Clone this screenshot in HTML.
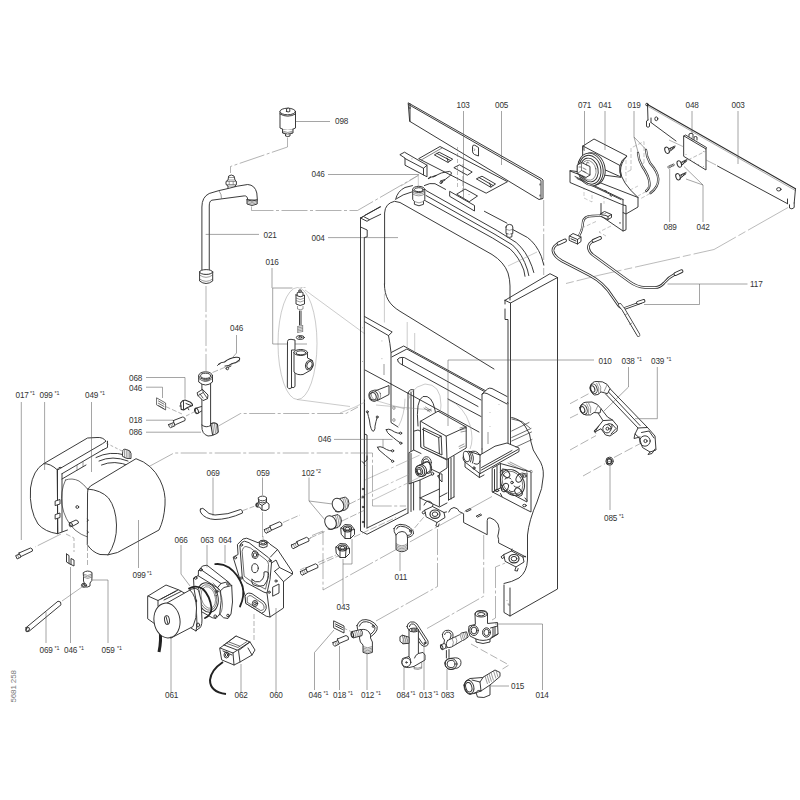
<!DOCTYPE html>
<html><head><meta charset="utf-8"><title>5681 258</title>
<style>
html,body{margin:0;padding:0;background:#fff;}
svg{display:block}
text{font-family:"Liberation Sans",sans-serif;font-size:8.2px;fill:#333;letter-spacing:-.12px;}
.s{font-size:5.4px;letter-spacing:0}
.o{fill:none;stroke:#303030;stroke-width:.95;stroke-linejoin:round;stroke-linecap:round}
.w{fill:#fff;stroke:#303030;stroke-width:.95;stroke-linejoin:round;stroke-linecap:round}
.l{fill:none;stroke:#5a5a5a;stroke-width:.55}
.d{fill:none;stroke:#666;stroke-width:.5;stroke-dasharray:26 2.5 3 2.5}
.dd{fill:none;stroke:#777;stroke-width:.5;stroke-dasharray:4 2}
.t{fill:none;stroke:#8a8a8a;stroke-width:.45}
.k{fill:none;stroke:#222;stroke-width:1.8;stroke-linecap:round}
.h{fill:none;stroke:#484848;stroke-width:.55}
</style></head><body>
<svg width="800" height="800" viewBox="0 0 800 800">
<rect width="800" height="800" fill="#fff"/>
<!-- 10_topleft.svg -->
<g id="p098">
<path class="w" d="M280,111.5 L280,128 Q287.7,132.5 295.5,128 L295.5,111.5"/>
<ellipse class="w" cx="287.75" cy="111.5" rx="7.75" ry="3.3"/>
<path class="o" d="M280,114 Q287.7,118.5 295.5,114"/>
<path class="w" d="M286.6,111.5 V108.6 Q288.2,107.6 289.8,108.6 V111.5 Q288.2,112.5 286.6,111.5Z"/>
<path class="w" d="M282.5,129.5 V133 Q287.7,136 293,133 V129.5"/>
<path class="h" d="M282.5,131 Q287.7,134 293,131 M283,132.5 Q287.7,135.3 292.5,132.5"/>
<path class="w" d="M285.5,134.5 V136 Q287.7,137 290,136 V134.5"/>
<path class="l" d="M296,121.5 H330"/>
<path class="d" d="M287.5,137.5 V147 L230.5,166.5 V173"/>
</g>
<g id="p021">
<!-- top fitting -->
<path class="w" d="M228,190 V186 L226,184.500 V181.500 L228,180 L228.700,176 Q231.200,174 234,176 L235,180 L236.400,181.500 V184.500 L235,186 V189 Z"/>
<path class="h" d="M228,180 H235 M226,181.500 H236.400 M226,184.500 H236.400 M228,186 H235 M229.200,181.500 V184.500 M233.200,181.500 V184.500 M228.700,177.500 H234.500"/>
<!-- pipe body -->
<path class="w" d="M201.900,271 V207 Q201.900,197 209.200,193.500 L218.900,190.600 L226,189 L237.200,186.200 L247.700,184.500 Q255,185 256.800,193 L257.400,200.200 L247.700,199.800 Q247.500,195.500 244.200,195.900 L221.500,198.900 L211.900,200.200 Q209.200,201 209.250,206 V271 Z"/>
<path class="h" d="M218.900,190.600 Q221.800,194.500 221.500,198.900"/>
<!-- thread end -->
<path class="w" d="M247,199.800 V204 Q252,207 257.200,204 V199.800 Q252,202.500 247,199.800Z"/>
<path class="h" d="M247,201.200 Q252,204 257.200,201.200 M247,202.700 Q252,205.500 257.200,202.700"/>
<!-- bottom fitting -->
<path class="w" d="M199.600,272 V281 Q206,286 212.700,281 V272 Q206,276.500 199.600,272Z"/>
<ellipse class="w" cx="206.150" cy="272" rx="6.550" ry="2.400"/>
<path class="h" d="M199.600,275 Q206,279.700 212.700,275 M199.600,279 Q206,283.700 212.700,279"/>
<path class="l" d="M205.700,234.400 H259"/>
<path class="d" d="M206,286 V371"/>
<path class="d" d="M251.5,206.5 V210.5 H357.5 L418,175.5"/>
</g>
<g id="p016">
<ellipse class="t" cx="297.5" cy="343.5" rx="19.5" ry="56"/>
<path class="l" d="M272,268 V288 M272.5,288 H292.5 M272.7,288 V344 H307"/>
<!-- valve insert -->
<path class="w" d="M296,295 V304 Q300,307 304.5,304 V295 Q300,297.5 296,295Z"/>
<path class="w" d="M297.5,292.5 Q300.3,290.5 303,292.5 V296 Q300.3,297.6 297.5,296Z"/>
<path class="w" d="M299.3,290 h1.8 v2.2 h-1.8z"/>
<path class="h" d="M296,298 Q300,301 304.5,298 M296,300.5 Q300,303.5 304.5,300.5 M297.5,306 V309 Q300.3,310.5 303,309 V306"/>
<path class="o" d="M299.5,311 V325 M301,311 V325"/>
<path class="h" d="M297.7,326.5 l5,-1 M297.7,328 l5,-1 M297.7,329.5 l5,-1 M297.7,331 l5,-1 M297.7,332.5 l5,-1 M297.7,326 v7 M302.7,325 v7"/>
<ellipse class="w" cx="300.3" cy="337.5" rx="4" ry="2"/>
<ellipse class="o" cx="300.3" cy="337.3" rx="1.6" ry=".8" style="stroke-width:1"/>
<!-- back plate and T body -->
<path class="w" d="M287.5,341 Q287.5,339 291,339.3 L295,340 V350 H291.5 V388 Q288.5,390 287.5,387.5Z"/>
<path class="o" d="M295,372 V386.5 Q293,389 291.5,387"/>
<path class="w" d="M294,352.5 V372 Q297,375.5 303,374.5 L311,370 Q314.5,366 312.5,360.5 L307.5,358 V352.5 Q300.5,357 294,352.5Z"/>
<ellipse class="w" cx="300.8" cy="352.5" rx="6.8" ry="3"/>
<ellipse class="o" cx="300.8" cy="352.8" rx="4.8" ry="2"/>
<ellipse class="w" cx="309.3" cy="365" rx="3.6" ry="5" transform="rotate(20 309.3 365)"/>
<ellipse class="o" cx="309.5" cy="365" rx="2.4" ry="3.6" transform="rotate(20 309.5 365)"/>
<path class="t" d="M305,290 L365,334 M297,399.5 L350,406.5"/>
<path class="t" d="M300.5,287.5 L305.5,287.5" style="stroke-dasharray:2 1"/>
</g>
<g id="p046a">
<path class="l" d="M236.5,335 V353 L233,357"/>
<path class="o" style="stroke-width:1.100;stroke:#2a2a2a" d="M218.500,364.500 Q221,362 224.500,362 Q229.500,358 236,357.300 Q240.500,356.800 239.500,359.800 Q236.500,363 231.500,363.800 Q228.500,366.300 225,366"/>
<path class="o" d="M219,364 L217.5,365.5 M226,368.5 a1.3,1.3 0 1,0 2.6,0 a1.3,1.3 0 1,0 -2.6,0 M228,367.5 L231,366"/>
<path class="l" d="M328,174.5 H419"/>
<path class="l" d="M328,237.600 H398"/>
</g>

<!-- 12_top005.svg -->
<g id="p005">
<!-- shelf plate with slots (behind panel) -->
<path class="w" d="M419,158.500 L440,146.500 L507.500,181.700 L486.500,193 Z"/><path class="o" d="M421.500,159.800 L442,148" style="stroke-width:.6"/>
<path class="o" d="M434.700,154.700 L439.200,152.200 L452.700,159.200 L448.200,162.200 Z M437,153.500 L450.500,160.500 M448.200,162.200 L447,158"/>
<path class="o" d="M454.200,167.500 L459.500,164.800 L472.200,172 L467.700,175 Z"/>
<path class="o" d="M476.700,178.700 L482,176.200 L495.500,184 L491,187 Z M479,177.500 L493,185.500 M491,187 L489.500,183"/>
<!-- panel 005 -->
<path class="w" d="M408.5,103 L542,179 L543,180 V198.5 L539,199.5 L410,121.5 Z"/>
<path class="o" d="M408.5,104.5 L541,180.5 V198.7 M410,103.8 V121.5" />
<path class="o" d="M409.3,108 h1.2 M540,184 v1 M540,195 v1"/>
<path class="w" d="M472.5,146.5 q0,-2 2.3,-1.3 L478.5,147.5 V156 L474.5,154.5 q-2,-1 -2,-3Z"/>
<path class="h" d="M474,148.5 q1.5,1 0,2.5"/>
<!-- left bracket -->
<path class="w" d="M400.200,154.500 L404.500,152.200 L427,165.200 V176.800 L405,165.200 V158.500 Z"/>
<path class="o" d="M405,158.500 L423.500,168.300 L427,165.200 M423.500,168.300 V174.800"/>
<path class="h" d="M411.500,158.800 h.9"/>
<!-- bracket 2 -->
<path class="w" d="M457,194 L465,189 L477.500,196 L469.500,201.500 Z"/>
<path class="w" d="M450,191.500 L474.500,205.500 V211 L450,196.500 Z"/>
<path class="h" d="M468.600,194.500 h.9"/>
<!-- 046 clip -->
<g style="stroke-width:1;stroke:#2a2a2a"><path class="o" d="M430.200,177.200 Q434,177.500 437,175 Q441,172.500 446,172 Q450.500,170.500 451.500,172.700 Q451.500,175 449,176.500 Q446,180 440.500,181"/>
<path class="o" d="M428.500,178.500 l2,-1.300 M433,176.500 l3,-1" style="stroke-width:1.300"/><circle class="o" cx="441" cy="182.600" r="1.100"/><path class="o" d="M442,181.800 l3,-1.800"/></g>
<!-- thin lines -->
<path class="t" d="M419,175 L401,186 M418.3,175 V187"  />
<path class="dd" d="M457.5,147 V187 M462.8,192 V162"/>
<!-- leaders -->
<path class="l" d="M463.5,111 V200 M501.5,111 V165"/>
<path class="d" d="M543.7,200 V275"/>
</g>

<!-- 14_topright.svg -->
<g id="p003">
<path class="w" d="M647.5,104.5 L795.5,188.7 L794.5,205 L787.5,203.7 L717.5,166 L676,141 L651,122.5 L648,120 Z" style="stroke:none"/>
<path class="o" d="M647.5,104.5 L795.5,188.7" style="stroke-width:1.1;stroke:#2a2a2a"/><path class="o" d="M647.8,106.3 L795.3,190.5" style="stroke-width:.4"/>
<path class="o" d="M647.5,104.5 L648,120 M795.5,188.7 L794.2,203"/>
<path class="o" d="M651,122.5 L676,141 M717.5,166 L787.5,203.7"/>
<circle class="o" cx="647" cy="104.5" r="1.3"/>
<!-- hooks -->
<path class="o" d="M648,120 L646.5,121 V126.5 Q648,128 649.5,126.5 V123.5 M651,118 V122.5"/>
<path class="o" d="M794.2,203 V207.5 Q792,210 789.5,208 V204.8 M787.5,199 V203.7"/>
<ellipse class="o" cx="656.3" cy="118.8" rx="1.5" ry="1.9"/>
<ellipse class="o" cx="778.8" cy="189.3" rx="2.2" ry="1.7"/>
<path class="l" d="M738,111 V164 M692,111 V148"/>

<path class="t" d="M788,207.500 L714,249.5 L600,275 L566,283.5" style="stroke:#666;stroke-dasharray:46 3 8 3"/>
</g>
<g id="p048">
<path class="w" d="M684,136 L706,149 V170 L684,156.5 Z"/>
<path class="o" d="M684,136 L685.5,135 L706.5,147.5 L706,149"/>
<path class="w" d="M689,136.5 v-2.5 q2,-1.5 4,0 v3 M694,139.5 v-2.5 q1.5,-1 3,0 v3"/>
<path class="h" d="M686,154 v.8 M703.5,151 v.8 M703.5,166 v.8 M690,160 h.8 M694,162.3 h.8 M698,164.6 h.8"/>
<path class="dd" d="M669,140 L684,147 M706,160 L716,165" style="stroke-dasharray:none;stroke:#666"/>
<path class="dd" d="M688,160 L706,151"/>
</g>
<g id="screws">
<g id="sc1"><ellipse class="w" style="stroke-width:1" cx="667" cy="150.3" rx="2.1" ry="3.3" transform="rotate(-20 667 150.3)"/><path class="o" d="M668.8,149 L675,146 M669.3,151.8 L675,147 M670.5,148.2 l.6,2 M672,147.5 l.6,1.6 M673.5,146.8 l.4,1.2"/></g>
<g id="sc2"><ellipse class="w" style="stroke-width:1" cx="679.3" cy="164" rx="2.1" ry="3.3" transform="rotate(-20 679.3 164)"/><path class="o" d="M681,162.5 L687,159.5 M681.6,165.3 L687,160.5 M682.8,161.8 l.6,2 M684.3,161 l.6,1.6 M685.6,160.3 l.4,1.2"/></g>
<g id="sc3"><ellipse class="w" style="stroke-width:1" cx="678" cy="176.8" rx="2.1" ry="3.3" transform="rotate(-20 678 176.8)"/><path class="o" d="M679.8,175.5 L686,172.5 M680.3,178.3 L686,173.5 M681.5,174.7 l.6,2 M683,174 l.6,1.6 M684.5,173.3 l.4,1.2"/></g>
<path class="o" d="M668,166.5 L673.8,163.8 L674.5,165.2 L668.6,168 Z M669.5,165.8 l.7,1.5 M671,165.1 l.7,1.5 M672.5,164.4 l.7,1.5" style="stroke-width:.6"/>
<path class="l" d="M669.7,222 V168.5 M703,222 V185 L684,166.5 M703,185 L686,179"/>
</g>
<g id="p019">
<path class="dd" d="M631,170 V148 L644,141.5 V163 M631,170 L625,173 M644,163 L640,165" style="stroke:#888"/>
<path d="M638,153 Q638.5,160 642,166 Q649,176 649.5,183 Q650,188 646.2,191" fill="none" stroke="#333" stroke-width="2.3" stroke-linecap="round"/>
<path d="M638,153 Q638.5,160 642,166 Q649,176 649.5,183 Q650,188 646.2,191" fill="none" stroke="#fff" stroke-width=".9" stroke-linecap="round"/>
<path d="M646,150 Q646.5,157 650,163 Q658,172 658.3,179 Q658.5,187 650.5,193" fill="none" stroke="#333" stroke-width="2.3" stroke-linecap="round"/>
<path d="M646,150 Q646.5,157 650,163 Q658,172 658.3,179 Q658.5,187 650.5,193" fill="none" stroke="#fff" stroke-width=".9" stroke-linecap="round"/>
<path class="l" d="M634,111 V137 L638,152 M634,137 L645.5,149"/>
<path class="dd" d="M646,191.5 L638,196 M650,193.5 L640,199" style="stroke:#888"/>
</g>
<g id="p041">
<!-- dashed boxes -->
<path class="dd" d="M584,186 V198 L592,202 V190 M604,195 V207 M626,160 V192 L638,186" style="stroke:#999"/>
<!-- top box -->
<path class="w" d="M583,146 L594,139 L627,156 Q621,160 620,166 Q619.5,172 621,177 L583,160 Z"/>
<path class="o" d="M583,146 L620,165.5 M583,146 V150"/>
<!-- curved cut + front flange -->
<path class="w" d="M621,177 Q619.5,172 620,166 Q621,160 627,156 Q620.5,163 620.5,171 Q621,182 638,197.5 V207 L626,214 V205.5 L623,205 L570,182.5 V171 Z" />
<path class="o" d="M570,171 L638,197.5 M575,176.5 L623,199.5 M577,178.5 L621,199.5 M623,199.5 V205 M605,190.5 l1.5,.7 M610,195.5 l1.5,.7 M581,179.5 l1.5,.7"/>
<!-- disc 071 -->
<ellipse class="w" cx="592.5" cy="169" rx="12.5" ry="16.5" transform="rotate(-12 592.5 169)"/>
<ellipse class="w" cx="590.5" cy="169.5" rx="12.5" ry="16.5" transform="rotate(-12 590.5 169.5)"/>
<ellipse class="o" cx="590" cy="169.7" rx="10.8" ry="14.6" transform="rotate(-12 590 169.7)"/>
<ellipse class="o" cx="589.3" cy="170" rx="8.8" ry="12" transform="rotate(-12 589.3 170)"/>
<ellipse class="o" cx="588.7" cy="170.3" rx="7.3" ry="10" transform="rotate(-12 588.7 170.3)" style="stroke-width:.5"/>
<path class="w" d="M577.5,165 L581.5,162.5 L590,166.5 V175 L586,177.5 L577.5,173.5 Z"/>
<path class="o" d="M581.5,162.5 V170.5 L577.5,173.5 M581.5,170.5 L590,175 M579,167 h2 M583,168 l3,1.5 M583,171 l3,1.5 M580,163.8 l-2,-1.8 l1.5,-1.5 M586.5,165 l.5,-3 l2,1" style="stroke-width:.6"/>
<!-- lower plate -->
<path class="w" d="M601,203.5 V216 L623,231 L626,229.8 V214 L623,212.5 V205"/>
<path class="o" d="M623,212.5 V231 M620,222.5 v.8"/>
<!-- connector on plate -->
<path class="w" d="M601,213.5 L604.5,211.5 L611.5,214.5 V217.5 L608,219.5 L601,216.5Z"/>
<path class="o" d="M608,216.5 V219.5 M601,213.5 L608,216.5 L611.5,214.5"/>
<path class="l" d="M584.5,111 V151 M605,111 V150"/>
<path class="dd" d="M596,221.5 L584,227 M611,226 L599,232 L606,236" style="stroke:#888"/>
</g>
<g id="cables117">
<!-- small cable w/ connector -->
<path d="M606,214.5 Q600,216 592,216 Q584,216 583,222 Q582.5,230 579,236" fill="none" stroke="#333" stroke-width="2.3"/>
<path d="M606,214.5 Q600,216 592,216 Q584,216 583,222 Q582.5,230 579,236" fill="none" stroke="#fff" stroke-width="1"/>
<path class="w" d="M569.5,236 L573,233.5 L581,237 V241.5 L577.5,244 L569.5,240.5Z"/>
<path class="o" d="M569.5,236 L577.5,239.5 L581,237 M577.5,239.5 V244 M571,238.8 l5,2.2" />
<!-- cable A -->
<path id="ca" d="M564,241 L559.5,243 Q552.500,246 553,251 Q554,256.500 562,261 L590,275.500 Q604,283 612,296 L619,306 L623,309 L637,333" fill="none" stroke="#303030" stroke-width="2.700" stroke-linecap="round"/>
<path d="M564,241 L559.5,243 Q552.500,246 553,251 Q554,256.500 562,261 L590,275.500 Q604,283 612,296 L619,306 L623,309 L637,333" fill="none" stroke="#fff" stroke-width="1.050" stroke-linecap="round"/>
<path d="M623,309 L641,302.5" fill="none" stroke="#303030" stroke-width="2.700" stroke-linecap="round"/>
<path d="M622,309.3 L641,302.5" fill="none" stroke="#fff" stroke-width="1.050" stroke-linecap="round"/>
<path d="M558.5,243.5 L565,240.5" fill="none" stroke="#2a2a2a" stroke-width="3.800" stroke-linecap="round"/><path d="M558.5,243.5 L565,240.5" fill="none" stroke="#fff" stroke-width="2" stroke-linecap="round"/>
<path d="M638,302.7 L643.5,301" fill="none" stroke="#2a2a2a" stroke-width="3.800" stroke-linecap="round"/><path d="M638,302.7 L643.5,301" fill="none" stroke="#fff" stroke-width="2" stroke-linecap="round"/>
<path d="M620,305 L623.5,309.5 L638.5,335" fill="none" stroke="#333" stroke-width="3.6" stroke-linecap="round" stroke-linejoin="round"/><path d="M620,305 L623.5,309.5 L638.5,335" fill="none" stroke="#fff" stroke-width="2.3" stroke-linecap="round" stroke-linejoin="round"/><path class="h" d="M627.5,313.5 l-2.5,1.5 M632,323 l-2.7,1.5"/>
<!-- cable B -->
<path d="M598,238.8 L594,240.5 Q588,243.5 588.5,248 Q589,252 593,255 L630,282 Q637,287 645,287.5 L655,287.5 Q660,287.5 664,283 Q669,277 676,273.5" fill="none" stroke="#303030" stroke-width="2.700" stroke-linecap="round"/>
<path d="M598,238.8 L594,240.5 Q588,243.5 588.5,248 Q589,252 593,255 L630,282 Q637,287 645,287.5 L655,287.5 Q660,287.5 664,283 Q669,277 676,273.5" fill="none" stroke="#fff" stroke-width="1.050" stroke-linecap="round"/>
<path d="M593.5,240.8 L600,238" fill="none" stroke="#2a2a2a" stroke-width="3.800" stroke-linecap="round"/><path d="M593.5,240.8 L600,238" fill="none" stroke="#fff" stroke-width="2" stroke-linecap="round"/>
<path d="M675.5,274 L681.5,271.2" fill="none" stroke="#2a2a2a" stroke-width="3.800" stroke-linecap="round"/><path d="M675.5,274 L681.5,271.2" fill="none" stroke="#fff" stroke-width="2" stroke-linecap="round"/>
<path class="l" d="M667.5,284 H747.5 M699.5,284 V304.5 H644"/>
</g>

<!-- 20_frame.svg -->
<g id="frame">
<!-- left post -->
<path class="o" d="M360.5,218 V531 L367,534.300 L408,513"/>

<path class="o" d="M360.5,218 L380,206.8 M365,215.2 L380.7,206.8 M369.5,219.7 L380.7,214.3 M360.5,218 L363.5,216.5 L369.5,219.7 L367,221.3 L361,218.3"/>
<path class="o" d="M360.5,227 L367.2,230 V236.8 L364.3,237.5 V527"/>

<!-- vessel 004 -->
<path class="o" d="M384.6,284 V213 Q385,203.5 394.5,201.3 L400,202.5 L492,254.5 Q504,262 508,273 Q510,280 510,286 V300"/>
<path class="o" d="M384.4,284 C384.6,297 389,304.5 400,311.3 L494,369"/>
<path class="o" d="M395.6,199.400 Q397.500,191 405,187.500 L412.500,185.600 M396.500,198.700 Q402,194.500 411.900,191.900"/>
<path class="o" d="M424.400,185.500 Q430,182.500 435,183.700 L445.600,189.400"/>
<path class="o" d="M426,190.5 L497.5,230.8 L516.2,242.5 Q526.3,251 531.9,266.3 L533.8,272.5"/>
<path class="o" d="M426,195.5 L495,234.4 L512.5,245 Q522.5,254 527.5,270 L528.8,275.6"/>
<path class="o" d="M424,200 L492.5,238 L510,248.8 Q519,257 523.8,270 L525,276.3"/>
<path class="o" d="M484.4,211.3 L506.9,223.1 M512.5,229.4 L527.5,237.5 Q536.3,244 541.3,256.3 L543.8,265"/>
<path class="t" d="M508,266 L537,252"/>
<!-- cap -->
<path class="w" d="M412.700,189.400 V199.400 L414.400,201.500 V204.300 Q419,207.300 423.500,204.300 V201.500 L424.800,199.400 V189.400"/>
<ellipse class="w" cx="418.750" cy="189.400" rx="6.100" ry="3.100"/>
<ellipse class="o" cx="418.750" cy="189.700" rx="4.400" ry="2"/>
<path class="h" d="M412.700,192.300 Q418.700,196 424.800,192.300 M412.700,194 Q418.700,197.700 424.800,194 M414.400,201.500 Q419,204.200 423.500,201.500"/>
<!-- nipple -->
<path class="w" d="M506,227 V233.500 Q509.400,235.500 512.800,233.500 V227 Q512.800,224.400 509.400,224.400 Q506,224.400 506,227Z"/>
<path class="w" d="M506.800,234.200 V236.800 Q509.400,238 511.900,236.800 V234.200"/>
<path class="h" d="M506,229.300 Q509.400,231.300 512.800,229.300"/>
<!-- right panel -->
<path class="o" d="M505,300.3 L550,273.700 L557.500,277.500 V589 L510,616 L504,612.5 V585"/>
<path class="o" d="M505,300.3 L510.5,303 L557.500,277.500"/>
<path class="o" d="M505,300.3 V304 M505,309 V319.5 H508 V452 M510.5,303 V451"/>
<path class="o" d="M510,616 V588"/>
<!-- wavy edge -->
<path class="o" d="M511.7,417.5 Q520,419 525,426 Q531,434 531,442 Q532,450 538,458 Q544,466 543.3,476 Q543,488 537,502 Q529,520 527.5,535 L527.5,560 Q527,572 519,578 Q512,582 504,583.5"/>
<!-- left inner plate -->
<path class="o" d="M364.5,316.5 L392.2,332 L388.5,335.6 Q390,343 391,352.5 V422.5 L398,427"/>
<path class="o" d="M364.5,321.7 L388.5,335.6"/>
<path class="o" d="M365,370 L391,384"/>
<path class="h" d="M381.9,340.6 v.7 M381.9,358.4 v.7 M384,364 V375 M362.5,327.5 v.7 M362.5,361 v.7"/>
<!-- beam -->
<path class="o" d="M391.2,352.5 L403.7,346 L508,403"/>
<path class="o" d="M391.9,356.9 L406.9,349 L484,391.3"/>
<path class="o" d="M397.5,359.6 Q398.5,357.2 402,357.4 L404.4,357.6 L481,400 M397.5,359.6 Q397.6,362.5 400.5,363.8 L478,406.5 M402.500,358.500 V364.800"/>
<path class="o" d="M391,384 L479,432"/>
<path class="o" d="M448,399 L481,416.5"/>
<path class="t" d="M407.2,322 V347.5 M414.7,333 V351 M384.4,293.7 V322.5"/>
<!-- right bracket -->
<path class="w" d="M482,394 L487.5,389 Q489.5,387.5 492,388.5 L507,396.5 V440 L482,449 Z" style="stroke:none"/><path class="o" d="M482,449 V394 L487.5,389 Q489.5,387.5 492,388.5 L507,396.5"/>
<path class="o" d="M482,394 Q484,392 487,393.5 L507,404"/>
<path class="h" d="M490,412 v.6 M490,426 v.6 M488,432 V444 M499,404 v.6"/>
<path class="o" d="M482,449 V470"/>
<!-- pipe stub -->
<path class="w" d="M375,391 L389,385.5 V394.5 L377.5,400.5Z"/>
<ellipse class="w" cx="373.5" cy="396" rx="4.6" ry="5.4" transform="rotate(-20 373.5 396)"/>
<ellipse class="o" cx="373" cy="396.3" rx="3.1" ry="3.8" transform="rotate(-20 373 396.3)"/>
<ellipse class="o" cx="376" cy="395" rx="4.6" ry="5.4" transform="rotate(-20 376 395)" style="stroke-width:.45"/>
<!-- central rail -->
<path class="o" d="M408,393 V513 M413.600,390 V510 M411,392 V511.500"/>
<path class="o" d="M408,393 Q410,388 413.600,390"/>

<path class="h" d="M392.7,408 a1.2,1.4 0 1,0 2.4,0 a1.2,1.4 0 1,0 -2.4,0 M392.7,420 a1.2,1.4 0 1,0 2.4,0 a1.2,1.4 0 1,0 -2.4,0"/>
<!-- bottom frame lines -->
<path class="o" d="M364.500,527 V400 M367,528 V456 M367,528 L406,509" /><path class="o" d="M364.500,434 L367,435 V460 L364.500,462"/>


</g>

<!-- 25_central.svg -->
<g id="central">
<!-- light loops -->
<path class="t" d="M448.700,400 Q464,406 470,425 Q474,440 470,449 M405,398.700 Q404.500,415 398.700,426 M407,410 Q407,388 425,384 Q441,384 441,405 Q441,412 437,414"/>
<path class="t" d="M376,405 L432,410 M374,400 L405,409"/>
<!-- arch -->
<path class="o" d="M418,426 Q415.500,400 423,396.500 Q432,394.500 435,410 L435.500,413"/>
<path class="o" d="M424,408 l6,4 M425.500,407 l6,4 M427.500,411 l3.500,-2" style="stroke-width:.5"/>
<!-- clips -->
<g style="stroke-width:.9;stroke:#2a2a2a">
<path class="o" d="M367.500,412.500 Q368.500,417 369.400,420 Q370,426 371.200,428.700 Q372.500,432 373.700,431.200 Q375.500,429 375,426.200 Q376,421 377,418"/>
<circle class="o" cx="367.300" cy="411.800" r="1"/><circle class="o" cx="377.200" cy="417" r="1"/>
<path class="o" d="M386.200,429.600 Q389,428.500 391.200,430 Q395,432.500 397.500,433 L399.500,433.200 M386.200,429.600 Q387,433 390,435 Q394,438 396.200,440 L399.800,442.500"/>
<circle class="o" cx="400.600" cy="433.200" r="1.100"/><circle class="o" cx="400.800" cy="443.200" r="1.100"/>
<path class="o" d="M377.500,447.200 Q380,446 383,447.500 Q387,450 389.400,450.600 L391.500,450.800 M377.500,447.200 Q378.500,450.500 382,452.500 Q386,456 388,457.500 L391.700,460.500"/>
<circle class="o" cx="392.600" cy="450.800" r="1.100"/><circle class="o" cx="392.600" cy="461.300" r="1.100"/>
</g>
<path class="l" d="M334,439.400 H392.500 M383,439.400 V447"/>
<!-- valve plate under box -->
<path class="w" d="M409.400,452.500 L413.700,450 V431.200 L418,430 L421,431.500 V447 L447,460 V468 L439.400,473 L439.400,489 L420,498 V480 L409.400,483.700 Z"/>
<path class="o" d="M411,453.500 V483 M413.700,450 L421,453.500 M439.400,473 L432,469.500 M420,480 L432,474.500"/>
<!-- fittings -->
<ellipse class="w" cx="426.500" cy="462.500" rx="4.800" ry="5.800"/><ellipse class="o" cx="426" cy="462.800" rx="3.200" ry="4"/>
<path class="w" d="M420.500,464.500 L428,461.500 Q431.500,465 430,471 L423,475Z"/>
<ellipse class="o" cx="427" cy="467.500" rx="4.500" ry="6" transform="rotate(-20 427 467.500)"/>
<ellipse class="w" cx="421.500" cy="470.500" rx="5" ry="6" transform="rotate(-20 421.500 470.500)"/>
<ellipse class="w" cx="420" cy="471" rx="4.600" ry="5.600" transform="rotate(-20 420 471)"/>
<ellipse class="o" cx="419.500" cy="471.200" rx="3" ry="3.800" transform="rotate(-20 419.500 471.200)"/>
<ellipse class="o" cx="419.200" cy="471.400" rx="1.800" ry="2.400" transform="rotate(-20 419.200 471.400)"/>
<ellipse class="o" cx="432.500" cy="473.700" rx="1.200" ry="1.500"/>
<path class="o" d="M438,476 Q440.500,472.500 442,474 V482 Q440,481 438,476Z"/>
<!-- right rail under box -->
<path class="o" d="M448.500,459 V500 M454,456 V497 M451,458 V499"/>
<path class="o" d="M439.400,489 V506 M420,498 V510 M439.400,497 L447,493"/>
<path class="o" d="M420,498 L439.400,507 L447,503 M424,505 Q427,498 432,503"/>
<!-- box 010 -->
<path class="w" d="M420.600,421.200 L438,411.200 L466.200,427 V448 L447,459.400 L421.200,447.500 Z"/>
<path class="o" d="M420.600,421.200 L446.200,436.200 L466.200,427 M446.200,436.200 L447,459.400"/>
<path class="w" d="M423.700,428 L441.200,436.200 L442,455 L424.200,446.700 Z"/>
<path class="o" d="M422.500,429.500 L438.700,437.500 L439.400,453.700 M438.700,437.500 L441.200,436.200" />
<path class="o" d="M460,428 l5,-1.500 M460.500,430 l5.500,-1.500 M461,432 l5,-1 M459,446.500 l5,-2.500 M459.500,448.500 l5.500,-2.500" style="stroke-width:.5"/>
<path class="l" d="M448,360 H594 M448,360 V426"/>
<!-- pipe elbow & base -->
<path class="w" d="M465.600,462.500 L480,473.700 L519,451.500 L519,448 L507,443 L495,446.200 L480,455 L468.700,451.200 Q463.500,453 463,458 Q463,461 465.600,462.500Z"/>
<path class="o" d="M480,455 V473.700 M481.500,470 L518,449.500 M481.500,467.500 L512,450.500 M465,462 V467 L479.400,477.500 V473.700 M479.400,477.500 L484,475"/>
<ellipse class="w" cx="466.500" cy="456.500" rx="3" ry="5.300" transform="rotate(-15 466.500 456.500)"/>
<path class="o" d="M469,451.500 Q473,456 470.500,462 M471,452 Q475,456.500 472.500,463"/>
<path class="o" d="M470,452 Q476,449 480,455 M474,463.500 Q479,466 480,461"/>
<ellipse class="o" cx="474" cy="468" rx="1" ry="1.300"/>
<path class="o" d="M511.700,419 L522,421.500 L530,428 M511.700,431 L529,422.500 M511.700,437.500 L531,428.500 M516,447 L532,439.500 M511.700,441 L531.500,432" style="stroke-width:.7"/>
<!-- fan plate -->
<path class="w" d="M492.500,468 L500.400,463.500 L531,472 V512 L525.700,509.400 L492.500,492 Z"/>
<path class="o" d="M500.400,463.500 V488 L527,502 V473 M492.500,492 L500.400,488 M497,466 V490"/>
<ellipse class="o" cx="512.500" cy="482.500" rx="11" ry="14" transform="rotate(-35 512.500 482.500)"/>
<ellipse class="o" cx="506" cy="473.500" rx="3" ry="4.500" transform="rotate(-40 506 473.500)"/>
<ellipse class="o" cx="519.500" cy="478" rx="3" ry="4.500" transform="rotate(30 519.500 478)"/>
<ellipse class="o" cx="505" cy="487.500" rx="3" ry="4.500" transform="rotate(30 505 487.500)"/>
<ellipse class="o" cx="518.500" cy="492" rx="3" ry="4.500" transform="rotate(-40 518.500 492)"/>
<circle class="o" cx="512" cy="482.500" r="1.300"/><ellipse class="o" cx="512.500" cy="482.500" rx="9.300" ry="12.300" transform="rotate(-35 512.500 482.500)" style="stroke-width:.6"/><path class="o" d="M503,468.500 L500.400,472 M522,473 l4,1 M502,496.500 l-1.500,-3 M525,498 l2,2.500 M494.500,469.500 V491"/>
<ellipse class="o" cx="497" cy="490.500" rx="1.800" ry="1.200"/><ellipse class="o" cx="524.500" cy="505.500" rx="1.800" ry="1.200"/><ellipse class="o" cx="524.500" cy="476" rx="1.800" ry="1.200"/>
<path class="o" d="M508,463 l16,8 M510,462 l18,9 M524.500,470 q3,-1 2,2 M530,470.500 q3,-1 2,2" style="stroke-width:.5"/>
<path class="o" d="M505,479 Q509,476 511,479 M514,486 Q517,489 520,486 M509,490 Q512,494 515,490"/>
<!-- lower plate -->
<path class="w" d="M448.700,512 Q450,508 454,507.500 Q458,508 459.200,511.500 L463.600,513.700 V522.500 L487.200,534.700 V520.700 Q487,517.500 490,517.800 Q495,519 498,524 Q500,529 498.500,533 Q497,536 498.600,539.400 V542.900 L525.700,556.900" style="fill:none"/>
<path class="o" d="M466,510.500 l4,-2 l1.200,1 l-4,2Z M476.500,516 l4,-2 l1.200,1 l-4,2Z"/>
<!-- brackets w/ bearing -->
<g id="brg"><path class="w" d="M425,510 L432.500,506.500 L444,512.500 L445,517.500 L437,522.500 L426.500,517 Z"/><ellipse class="o" cx="435" cy="514.200" rx="5" ry="4.200" style="stroke-width:1.200"/><ellipse class="o" cx="435" cy="514.200" rx="2.800" ry="2.300"/><path class="o" d="M425,510 l-3,2.300 l1.200,1.800 l2.300,-1.500 M437,522.500 l-1.200,3.500 l2.500,.6 l.8,-2.600 M444,512.500 l2.500,-.6 M432.500,506.500 l.5,-2"/></g>
<g transform="translate(79,44.500)"><path class="w" d="M425,510 L432.500,506.500 L444,512.500 L445,517.500 L437,522.500 L426.500,517 Z"/><ellipse class="o" cx="435" cy="514.200" rx="5" ry="4.200" style="stroke-width:1.200"/><ellipse class="o" cx="435" cy="514.200" rx="2.800" ry="2.300"/><path class="o" d="M425,510 l-3,2.300 l1.200,1.800 l2.300,-1.500 M437,522.500 l-1.200,3.500 l2.500,.6 l.8,-2.600 M444,512.500 l2.500,-.6 M432.500,506.500 l.5,-2"/></g>
<!-- frame bottom detail -->
<path class="o" d="M448.500,500 L454,497"/>
<circle class="o" cx="363" cy="497" r="1"/><circle class="o" cx="363" cy="489" r=".8"/><circle class="o" cx="363" cy="507" r=".8"/><circle class="o" cx="363" cy="522" r=".8"/>
<path class="o" d="M362,461.500 q2.500,1 3,4" style="stroke-width:.9"/>
<!-- bottom plate small marks -->
<path class="h" d="M507,600 v.8 M507.500,604 h1.500 v2"/>
<!-- assembly dash-dots -->
<path class="d" d="M312,535.500 L323,531 V590 L492,496.500"/>
<path class="d" d="M376,621 L437.500,586.500 V527"/>

<path class="d" d="M318,562.500 L336,555 M354,537 L396,517.500" style="stroke-dasharray:7 2"/>
<path class="d" d="M427,628.500 L483.700,596.200 V535"/>
<path class="d" d="M492,620 L495.500,618 V567 L506.500,562.500"/>
<path class="d" d="M409.500,534 L426,514.500" style="stroke-dasharray:6 2"/>
<path class="d" d="M349.500,504 L364.500,496.500 M342,521 L365,510" style="stroke-dasharray:7 2"/>
<path class="d" d="M300,542.500 L312,537.500 M300,570 L306,567" style="stroke-dasharray:5 2"/>
<path class="d" d="M365,480 L420,455 M365,495 L410,474 M373,500 L420,477" style="stroke:#888"/>
<path class="t" d="M365,402 L355,407 L340,413"/>
</g>

<!-- 30_tank.svg -->
<g id="tank">
<!-- rear shell -->
<path class="w" d="M57.5,470 L102.5,443.7 L106,441.2 Q103,437 97,437.5 L87.5,438 L43.7,463.7 Q33,470 30.5,488 Q29,510 38,524 Q45,532 57.5,533.7 Z"/>
<path class="o" d="M57.5,470 V533.7 L67.5,530 M62,473.7 V531.5 M62,473.7 L102.5,450 M62,479 L86,465 M57.5,470 Q58,466.5 61.5,467.5"/>
<path class="o" d="M43.7,463.7 Q50,463 57.5,470 M107.5,441.2 V447.5 L102.5,450"/>
<path class="h" d="M77,465 v5.500 M83,461.500 v5.500"/>
<path class="w" d="M55.5,501 L60,499.5 V504 L55.5,505.5Z M55.5,514.5 L60,513 V517.5 L55.5,519Z"/>
<!-- inner cylinder -->

<path class="o" d="M96,457.500 Q110,450.500 125,455 M99,461 Q112.500,455 128,461 M101.500,465 Q114,459.500 130,466" /><path class="o" d="M65.500,480 Q60,492 62,505 Q64.500,520 75,530 Q81,535 87.500,537" style="stroke-width:.7"/><path class="o" d="M65.500,480 Q72,477.500 79,481 Q84,484.500 87.500,489" style="stroke-width:.7"/>
<path class="w" d="M122.7,451 Q122.5,448.5 126.5,449.5 Q131,450.5 131,453.5 V458.5 Q126.5,459.5 122.7,456.5Z"/>
<path class="h" d="M124.5,449.8 v7.5 M126.3,449.8 v8.2 M128,450 v8.5 M129.6,450.8 v8"/>
<circle class="o" cx="77.3" cy="507" r="1.4"/>
<path class="w" d="M69.5,523 L76,520 Q78.5,520.5 78.5,523 L72,526.5 Q69,526 69.5,523Z"/>
<ellipse class="o" cx="70.8" cy="524.8" rx="1.6" ry="2"/>
<!-- front shell -->
<path class="w" d="M87.5,492.5 Q87,488.5 90.5,486 L136,458.7 Q152,464 160,480 Q166,492 165,505 Q164,520 159,530 L117.5,552.5 Q108,556 100,554.5 Q92,552 87.5,545 Z"/>
<path class="o" d="M87.5,489 Q101,490 108.5,498 Q116,508 116.5,525 Q117,542 108,555"/>
<path class="o" d="M87.5,519 q2,1 0,2.5 M87.5,531 q2,1 0,2.5"/>
<!-- leaders -->
<path class="l" d="M21.3,402 V540 M44.6,402 V470 M91.5,402 V472 M138.5,568 V520"/>
<!-- dashdots from tank -->
<path class="d" d="M106,443 L122,451" style="stroke-dasharray:3 2"/>
<path class="d" d="M150,466 L174,453 H372.5 V506 H406"/>
<path class="d" d="M61,534 L35,547"/>
<path class="d" d="M66,534 L74,538 V552 M87.5,546 V566" style="stroke-dasharray:5 2"/>
</g>
<g id="tanksmall">
<!-- 017 pin -->
<path class="w" d="M19,553 L30.5,548 Q33,548.5 32.5,551 L21,556.5 Q18.5,556 19,553Z"/>
<path class="w" d="M16,555.5 L19.5,554 L21,557 L17.5,558.8 Z"/>
<path class="h" d="M17.5,555 l1.5,3.2"/>
<!-- 046 clip -->
<path class="o" d="M66.5,554 L69,555.5 V563.5 L74,566 V560 L71,558.5 V564.5 M66.5,554 V562 L69,563.5"/>
<!-- 059 fitting -->
<path class="w" d="M83.5,572.5 Q87.5,569.5 92,572.5 V577 Q92.5,581 90,583 V586 Q87,588 84.5,586.5 V583.5 Q83,582 83.5,577Z"/>
<path class="h" d="M83.5,574 Q87.5,577 92,574 M83.5,575.5 Q87.5,578.5 92,575.5 M83.5,577 Q87.5,580 92,577"/>
<ellipse class="w" cx="84" cy="585.3" rx="2.6" ry="2" />
<ellipse class="o" cx="83.8" cy="585.3" rx="1.3" ry="1"/>
<!-- 069 tube -->
<path class="w" d="M26,627.700 L58,601.200 Q61.500,601 61,604.800 L29,631.300 Q25.500,631.500 26,627.700Z"/>
<ellipse class="o" cx="27.6" cy="629.6" rx="1.5" ry="2.200" transform="rotate(40 27.6 629.6)"/>
<path class="l" d="M46,643 V612 M70.5,643 V567 M108,643 V580 H92"/>
<path class="d" d="M62,601 L82,587"/>
</g>
<g id="p086">
<!-- 068 / 046 / 018 / 086 -->
<path class="l" d="M146,377.500 H185 V398.700 M146,387.200 H162.500 V398 M146,420.200 H173 M146,432.200 H201"/>
<path class="o" d="M156.900,398 L165.600,403 V410 L156.900,405 Z M158.500,401 l5.500,3.200 M158.500,403.300 l5.500,3.200 M158.500,405.600 l5.500,3.200" style="stroke-width:.7"/>
<!-- 068 -->
<path class="w" d="M180.600,403 Q182.500,400 185,400 L190,401.900 Q192.800,403.500 192.500,405.600 L187.500,407.500 L183.700,410 L181.200,409.400 Z" style="stroke-width:1.100"/>
<path class="o" d="M183.500,401.500 V409.500 M186,403.500 L191,405.500 M187.500,407.500 l1.300,2.300 M181,406 h-1.200"/>
<!-- 018 pin -->
<path class="w" d="M173.500,420.500 L182.500,417 Q185.800,417.300 185,420.500 L175.500,424.700 Q173,424 173.500,420.500Z"/>
<path class="w" d="M168.700,424.500 L173.700,422.500 L175,425.700 L170.500,427.700 Q168.300,426.800 168.700,424.500Z"/>
<path class="h" d="M170.500,423.800 l1.400,3.300 M172,423.200 l1.400,3.300"/>
<!-- small piece -->
<path class="w" d="M195.500,408.300 L202.500,406.200 Q204.500,407.500 203.700,409.700 L197.500,413.500 Q194.500,412.500 195.500,408.300Z"/>
<ellipse class="o" cx="196.500" cy="411" rx="1.800" ry="2.800" transform="rotate(-20 196.500 411)"/>
<!-- pipe 086 -->
<path class="w" d="M201.900,380 V426 Q201.500,434 208,436 L212.500,435.500 L217,432.500 L215.500,424.500 L210.600,426 V380 Z"/>
<path class="o" d="M201.900,425 Q206,428.500 210.600,425.500"/>
<path class="w" d="M198.700,375.600 V382 Q205.600,388 212.500,382 V375.600"/>
<ellipse class="w" cx="205.600" cy="375.600" rx="6.900" ry="3.800"/>
<ellipse class="o" cx="205.600" cy="375.800" rx="5" ry="2.600"/>
<path class="o" d="M198.700,378.500 Q205.600,384.500 212.500,378.500 M204,381 Q208,381.500 210,379" style="stroke-width:.7"/>
<path class="w" d="M197.500,392.500 L202.500,389.400 L208,395 L207.500,398.700 L203,400.600 L198,395.600Z"/>
<path class="o" d="M198,395.600 L203.300,392.500 L207.500,398.700 M200,394 l3,4 M203.300,392.500 L202.500,389.400" style="stroke-width:.8"/>
<path class="w" d="M210.800,424 Q214.500,421.500 217.500,424.500 L218.300,432 Q215.500,435.500 212.500,434.500Z" style="stroke-width:1.100"/>
<path class="h" d="M212.500,423.300 l1.400,11 M214.300,422.800 l1.400,11 M216,423.300 l1.300,10"/>
<path class="d" d="M218.500,426 L240.500,413.500 H346 L358,407"/>
<path class="d" d="M212.500,372.500 L240,361" style="stroke-dasharray:6 2"/>
<path class="d" d="M165.600,406.500 L182,414" style="stroke-dasharray:5 2"/>
<path class="d" d="M186,416 L195,411.500" style="stroke-dasharray:4 2"/>
</g>

<!-- 40_pump.svg -->
<g id="pump">
<!-- 060 housing -->
<path class="w" d="M237.700,544.200 L243,539 L246.700,538.200 L258,542.700 L261,540.500 Q264,539.500 267,541.200 L270,544.200 L277.500,549.500 L292.500,572 V574.200 L283.500,581.700 V608 L270,617 L266.200,616.200 L246,603.500 L245.200,596 L240,579.500 L234,560 L233.200,557 L237.700,554.700 Z"/>
<path class="o" d="M240,545 Q241.500,541.500 244.500,541.200 L249,542.700 L268.500,557.700 Q271.500,560 271.500,563 L270,579.500 L267,593 L264,592.200 L246,582.500 Q242.500,580 242.200,576.500 Z"/>
<path class="o" d="M242.200,551 Q243,546.500 246,546.500 L250.500,548 L266.200,560 Q268.500,562 268.500,564.500 L267.700,579.500 L265.500,589.200 L252,582 L244.500,576.500 Z" style="stroke-width:.7"/>
<path class="o" d="M271.500,563 L276,560 L279.500,567.500 L292.500,574 M274.500,571.300 L279.500,567.500 M274.500,571.300 L283.500,581.700 M267,593 L270,617 M273,587 L279,584 V593 L273,596Z M277.500,549.500 L270.500,557"/>
<ellipse class="w" cx="263.200" cy="542.700" rx="3.900" ry="2.400"/><ellipse class="o" cx="263.200" cy="542.600" rx="2.300" ry="1.300"/>
<path class="o" d="M259.300,542.700 V546.500 Q263.200,549 267.100,546.500 V542.700"/>
<ellipse class="o" cx="255" cy="554.700" rx="3.100" ry="3.800"/><ellipse class="o" cx="255" cy="555" rx="1.700" ry="2.200"/>
<ellipse class="o" cx="255" cy="568.200" rx="3.300" ry="4.500"/>
<path class="o" d="M252,579.500 Q255,583 259.500,581.700 Q264.700,579 264,572 Q266,571 268.500,572.700 Q269.500,578 264,585.500 Q257.500,587.500 253,584.700 Q251,582 252,579.500Z"/>
<circle class="o" cx="241.500" cy="545" r="1.100"/><circle class="o" cx="270" cy="560.700" r="1.100"/><circle class="o" cx="241.200" cy="578" r="1.100"/><circle class="o" cx="269.200" cy="592.200" r="1.100"/><circle class="o" cx="235.500" cy="557.700" r="1.100"/><circle class="o" cx="276" cy="581" r="1.100"/>
<path class="w" d="M245.200,596 Q246.500,592.500 250,593.200 L252,593.700 L264,602 Q267,605 266.200,608.500 Q265,612.500 261.700,613.200 L246,603.500 Z"/>
<path class="o" d="M247.500,597 Q248.500,595 251,595.700 L262.500,603.500 Q264.700,606 264,608.500 Q263,610.700 260.700,610.500 L247.500,602.500 Z" style="stroke-width:.7"/>
<ellipse class="o" cx="255" cy="603.500" rx="2.700" ry="3"/><ellipse class="o" cx="255" cy="603.500" rx="1.300" ry="1.500"/>
<!-- 064 ring -->
<path class="k" d="M215.200,564.200 Q222,563.200 229,567.500 Q238,574 242.500,586 Q245,596 240,606.500"/>
<!-- 063 flange -->
<path class="w" d="M198.700,570.500 L202.500,566 L207,565.200 L228,581.700 L231.700,585.500 L232.500,602 L231,614 L228,618.500 L223.500,617.700 L219.700,614 L216,618.500 L212.200,617.700 L195,608 L193.500,578 L198,575.700 Z"/>
<path class="o" d="M198,575.700 L217.500,587.700 L220.500,590.700 L221.200,600.500 L219.700,614 M217.500,587.700 L221,583.500 L201.500,570 L198.700,570.500 M221,583.500 L228,581.700 M220.500,590.700 L224,587.500 L231.700,585.500"/>
<ellipse class="o" cx="207.700" cy="597.500" rx="10.300" ry="15" transform="rotate(-14 207.700 597.500)"/>
<ellipse class="o" cx="208" cy="597.500" rx="8.600" ry="13" transform="rotate(-14 208 597.500)" style="stroke-width:.6"/>
<ellipse class="o" cx="208.300" cy="597.500" rx="7" ry="11" transform="rotate(-14 208.300 597.500)" style="stroke-width:.5"/>
<path class="o" d="M213,583 Q222,590 222.500,604 Q222.500,612 219,615.500" style="stroke-width:.6"/>
<circle class="o" cx="201" cy="569.700" r="1.300"/><circle class="o" cx="228" cy="584" r="1.300"/><circle class="o" cx="228" cy="615.500" r="1.300"/><circle class="o" cx="216.700" cy="591.500" r="1.300"/><circle class="o" cx="195.700" cy="578" r="1.300"/><circle class="o" cx="215.200" cy="616.200" r="1.300"/>
<!-- 066 ring -->
<path class="k" d="M189,588.500 Q196,584.500 203,589 Q210,596 211.500,608 Q211.500,615 205,618"/>
<!-- 061 motor -->
<path class="w" d="M148,596 L166,585 L179,590 L186,594 V610 L155,624 L148,619 Z"/>
<path class="o" d="M148,596 L158,600.500 L176,591 M158,600.500 V606 M161,599 L178,590 M164,600 L181,591.500" />
<path class="w" d="M190,589.500 L194,588.500 Q198,588 199,592 L201,600 L202,620 Q202,628 198,629 L196,631 L191,628 Z"/>
<path class="o" d="M194,588.500 L196,600 L197,625 L196,631"/>
<ellipse class="o" cx="195" cy="601" rx="1.600" ry="2"/><ellipse class="o" cx="198" cy="625" rx="1.600" ry="2"/>
<path class="w" d="M167,603 L190,590 Q196,596 196.500,608 Q197,618 193,626.500 L171,638 Z"/>
<path d="M160,630 Q161.500,640 159,652" fill="none" stroke="#222" stroke-width="3"/>
<ellipse class="w" cx="167" cy="620.500" rx="13" ry="17.500" transform="rotate(-8 167 620.500)"/>
<ellipse class="o" cx="167" cy="620" rx="2.400" ry="4.400" transform="rotate(-8 167 620)"/>
<path class="o" d="M166,616.500 L168,624"/>
<!-- 062 -->
<path d="M223,662 Q211,670 210,680 Q210,692 226,694" fill="none" stroke="#222" stroke-width="2"/>
<path class="w" d="M220,648 L236,636 L250,642 L255,650 L252,655 L240,662 L234,665 L222,660 Z"/>
<path class="o" d="M220,648 L233,653 L249,642.500 M233,653 L234,665 M224,645 L237,650 M240,662 L238.500,650.500 L250,642 M223,651 L232,655 M252,655 L248,648"/>
<ellipse class="o" cx="226.500" cy="655" rx="2.500" ry="3"/><ellipse class="o" cx="226.500" cy="655" rx="1.200" ry="1.500"/><path class="o" d="M227,643.500 L238,647.500 L247,641.500 M229,642 L239.500,646 M236,636 L224,645" style="stroke-width:.7"/>
<!-- leaders -->
<path class="l" d="M181,545 V574 L190,586 M207,545 V567.500 M225,545 V563 M171,692.500 V636 M241,692.500 V664 M276,692.500 V608"/>
<path class="d" d="M254,640 V612" style="stroke-dasharray:5 2"/>
</g>
<g id="studs">
<g id="st"><path class="w" d="M270,526 L279.500,521.800 Q282.500,522.500 282,525.500 L272,530 Q269.500,529.500 270,526Z"/><path class="w" d="M264.500,529.500 L270,527 L271.500,530.500 L266,533.300 Q264,532 264.500,529.500Z"/><path class="h" d="M266.300,528.800 l1.500,3.500 M268,528 l1.500,3.500"/></g>
<g transform="translate(27,15.500)"><path class="w" d="M270,526 L279.500,521.800 Q282.500,522.500 282,525.500 L272,530 Q269.500,529.500 270,526Z"/><path class="w" d="M264.500,529.500 L270,527 L271.500,530.500 L266,533.300 Q264,532 264.500,529.500Z"/><path class="h" d="M266.300,528.800 l1.500,3.500 M268,528 l1.500,3.500"/></g>
<g transform="translate(36,42)"><path class="w" d="M270,526 L279.500,521.800 Q282.500,522.500 282,525.500 L272,530 Q269.500,529.500 270,526Z"/><path class="w" d="M264.500,529.500 L270,527 L271.500,530.500 L266,533.300 Q264,532 264.500,529.500Z"/><path class="h" d="M266.300,528.800 l1.500,3.500 M268,528 l1.500,3.500"/></g>

<path class="d" d="M283,522.500 L300,515 M310,538 L326,531 M319,564.500 L345,553" style="stroke-dasharray:7 2"/>
<path class="d" d="M263,536 V541" style="stroke-dasharray:3 1"/>
</g>

<!-- 50_valves.svg -->
<g id="p038039">
<!-- 039 -->
<path class="w" d="M610,388.700 L647.500,427.500 L655,436 L656,450 L650,452 L642.500,447.500 L639,437.500 L635,434 L638,428 L606,394.400 Z"/>
<path class="o" d="M608,391.500 L640,425.500 M638,428 L647.500,427.500 M640,437 L634,438.500 L635,434 M650,452 L648,454.500 L652,453.500 L655,449" />
<circle class="o" cx="645" cy="441" r="5.200"/><circle class="o" cx="645.500" cy="441" r="1.600"/>
<path class="o" d="M641.500,432.500 L649,431 L654,438"/>
<path class="w" d="M590.600,386.200 Q592,381 597,381.500 L602.500,381.900 Q608,383.500 610,388.700 L607.500,393.700 L601,391.900 Q598.500,395.500 594.500,395 Q590.500,393.500 590.600,386.200Z"/>
<ellipse class="o" cx="593.700" cy="388.700" rx="3.300" ry="5" transform="rotate(-20 593.700 388.700)"/>
<ellipse class="o" cx="592.500" cy="389" rx="2.200" ry="3.300" transform="rotate(-20 592.500 389)" style="stroke-width:1"/>
<path class="h" d="M596.500,383 Q600,387.500 598.500,394 M598.500,382.300 Q602,387 600.500,392.300 M607,385 L604,391.500"/>
<!-- 038 -->
<path class="w" d="M601,408.700 L607.500,417 L612.500,420 L617.500,426 L617,431 L610,436 L605.600,435 L601,428.700 L595,432 L598.700,426 L603,420.600 L598,413Z"/>
<path class="o" d="M603,420.600 L612.500,420 M598.700,426 L594,431 L595.500,433 M612,424 L616,428.500 L611,434"/>
<circle class="o" cx="607" cy="428.700" r="4.200"/><circle class="o" cx="607.500" cy="428.700" r="1.500"/>
<path class="o" d="M610,429.500 Q613,428 612,425 Q610.500,423 608,423.800" />
<path class="w" d="M580,407.500 Q581.500,402.500 586,402.200 L592,402 Q598,403.500 601,408.700 L600,413 L594,412.500 Q591,416 586,415 Q580.500,414 580,407.500Z"/>
<ellipse class="o" cx="583.700" cy="409.500" rx="3.300" ry="5" transform="rotate(-20 583.700 409.500)"/>
<ellipse class="o" cx="582.500" cy="409.800" rx="2.200" ry="3.300" transform="rotate(-20 582.500 409.800)" style="stroke-width:1"/>
<path class="h" d="M586.500,403.500 Q590,408 588.500,414.500 M588.500,403 Q592,407.500 590.500,413 M598,405.500 L595,412"/>
<!-- 085 -->
<ellipse class="o" cx="609.500" cy="461.200" rx="3.600" ry="4" /><ellipse class="o" cx="609.300" cy="461.300" rx="2.200" ry="2.600" style="stroke-width:1.200"/>
<path class="h" d="M606.500,459 l6,1 M606.200,461 l6.500,1 M606.500,463 l6,1" />
<path class="l" d="M628.500,367 V387 L604,411 M657.300,367 V418.700 H635 M610,466 V510"/>
<path class="d" d="M570,403.700 L590,393 M570,418 L580,413 M570,450 L596,435.600 M614,457.500 L640,443.700 M583,476 L605,463.700" style="stroke-dasharray:9 3"/>
</g>
<g id="valves">
<!-- 046 gasket -->
<path class="o" d="M334,621 L344,626 V633 L334,628 Z M335.500,624 L342.500,627.500 M335.500,626 L342.500,629.500"/>
<!-- 018 pin -->
<path class="w" d="M337.500,639 L346,635.500 Q349,636 348.500,639.500 L339.500,643.300 Q337,642.500 337.500,639Z"/>
<path class="w" d="M333,642.500 L338,640.500 L339.300,644 L334.700,646.300 Q332.500,645 333,642.500Z"/>
<path class="h" d="M334.700,641.800 l1.500,3.600 M336.300,641.200 l1.500,3.500"/>
<!-- 012 -->
<path class="w" d="M357,625.500 Q358.500,621.500 362,620 Q366,619 370,620.500 Q375,622.500 377.200,626.500 Q377.800,630 375,633 Q372,636.500 368,638 L363,638.500 Q357.500,634 357,625.500Z"/>
<path class="o" d="M359.300,626.200 Q360.500,623 363,622 Q366.500,621.200 369.500,622.500 Q373.500,624.300 375,627.300 Q375.300,629.500 373.300,631.800 Q371,634.500 368.500,635.500"/>
<circle class="o" cx="373.300" cy="626.300" r="1.100"/>
<path class="w" d="M361,629.600 Q366,628.500 369,632 Q371.500,635 370.500,638 L372.400,642 V652.400 Q367.700,655 363,652.400 V645 Q359.500,642.500 359.500,638.500Z"/>
<path class="w" d="M352,631.600 L361,629.400 Q363.300,632 362,635.600 L353,638 Q350.500,635.500 352,631.600Z"/>
<ellipse class="o" cx="352.300" cy="634.800" rx="1.200" ry="2.600" transform="rotate(-12 352.300 634.800)" style="stroke-width:1.100"/>
<path class="h" d="M354.500,631.200 Q356,634.500 355.300,637.400 M356.300,630.700 Q357.800,634 357.100,636.900 M358.100,630.200 Q359.600,633.500 358.900,636.400 M359.900,629.800 Q361.400,633 360.700,636"/>
<path class="h" d="M363,646.500 Q367.700,649 372.400,646.500 M363,648 Q367.700,650.500 372.400,648 M363,649.500 Q367.700,652 372.400,649.500 M363,651 Q367.700,653.500 372.400,651"/>
<!-- 084/013 -->
<path class="w" d="M407,626.500 Q407.500,623 410.500,622 Q414.500,621 417,624 L428,641 Q429,644.500 426.500,646 Q423.500,647.300 421,644.500 L410.500,630 Q406.800,629.500 407,626.500Z"/>
<path class="o" d="M409.400,626.600 Q409.800,624.500 411.500,624 Q414,623.500 415.500,625.500 L425.800,641.500 Q426.300,643.500 425,644.200 Q423.500,644.800 422.500,643.500 L412.500,629"/>
<circle class="o" cx="425" cy="643" r=".9"/>
<path class="w" d="M409,630 V656.500 L402.500,658.500 Q400.500,664 404,667 Q408.500,668.500 414,666.400 L425,660 V655 L423,652.400 L418.400,653.500 V630 Q413.700,633.500 409,630Z"/>
<ellipse class="w" cx="413.700" cy="630" rx="4.700" ry="1.900"/><ellipse class="o" cx="413.700" cy="630" rx="2.800" ry="1"/>
<path class="o" d="M418.400,653.500 Q415,655 414.500,658 M409,656.500 Q411,658.500 410.800,662"/>
<circle class="w" cx="406.400" cy="662.400" r="4.400"/><circle class="o" cx="406.400" cy="662.400" r=".7"/>
<path class="w" d="M400.300,636.500 L402.500,635.200 L409,637.200 V643.300 L403,643.800 L400.300,641.500Z"/>
<path class="o" d="M402.500,635.200 Q404,639 403,643.800 M404.500,636 Q406,639.500 405,643.600 M406.500,636.500 Q408,640 407,643.500" style="stroke-width:.7"/>
<path class="h" d="M414,666.400 V668.800 Q418,670.300 421.700,668.300 V662 M414,667.600 Q418,669 421.700,667"/>
<!-- valve near 083 -->
<path class="w" d="M442.400,634.500 Q442.800,631.500 445.500,630.500 Q449,629.500 451.500,631.500 Q453.500,633.500 453,636.500 L451,642.500 Q449,647.500 446.500,648 Q443.500,647.500 443.800,644 L444.500,640 Q442,638 442.400,634.500Z"/>
<path class="o" d="M444.600,634.600 Q445,632.800 446.500,632.300 Q448.800,631.700 450.200,633 Q451.300,634.300 451,636 L449.500,640"/>
<path class="w" d="M447.500,640.500 L459.500,634.800 L461.500,633 L466.500,631.800 L468.200,637 L464,640 L462.500,640.500 L451.500,647 Q448.500,648.500 446.500,646.500 Q445.500,643 447.500,640.500Z"/>
<path class="h" d="M460,634.500 l1.800,5.800 M461.700,633.500 l1.800,6 M463.400,632.800 l1.800,6 M465.100,632.300 l1.800,5.800 M452,638.500 Q454.500,642 452.500,646.300 M455.500,636.800 Q458,640.500 456,644.300"/>
<path class="w" d="M440.800,645 L444.500,643.300 Q446.500,645 445.800,648 L442.300,649.800 Q440,648 440.800,645Z"/>
<ellipse class="o" cx="441.700" cy="647.300" rx="1.100" ry="2" transform="rotate(-20 441.700 647.300)" style="stroke-width:1"/>
<path class="o" d="M446.400,650.500 V658 M449,649.500 V657.500"/>
<!-- 083 ring -->
<path class="w" d="M445,663 Q445,658.500 451,658.300 L455.500,657.800 Q461,658 461,662.500 Q461,667.500 455.500,668.500 L451,669.500 Q445,669 445,663Z"/>
<ellipse class="o" cx="451" cy="664" rx="6" ry="5.500"/><ellipse class="o" cx="451" cy="664" rx="4" ry="3.700"/>
<!-- 014 -->
<path class="w" d="M475,614 Q475,610.500 481,610.500 Q487.500,610.500 487.500,614 V623.500 L497.500,622.500 L498,634 L490,639 V642 Q483,645 476,642 V639 L470,636 Q467.500,631 469,626 L475,624.500Z"/>
<ellipse class="o" cx="481.200" cy="614" rx="6.200" ry="3"/><ellipse class="o" cx="481.200" cy="614.200" rx="3.600" ry="1.700"/>
<ellipse class="o" cx="474" cy="630.500" rx="4.300" ry="5"/><ellipse class="o" cx="474" cy="630.500" rx="2.800" ry="3.400"/>
<ellipse class="o" cx="486.500" cy="632.500" rx="4" ry="4.700"/><ellipse class="o" cx="486.500" cy="632.500" rx="2.600" ry="3.200"/>
<path class="o" d="M490.500,628 L497.500,626 M491,637.500 L498,634 M493,627.500 v9 M495,627 v8.500 M476,639 Q483,642 490,639"/>
<!-- 015 -->
<path class="w" d="M464,685 Q465,680 470,678.500 L482.500,677.500 L495,670 L500,672.500 V676.500 L490,685 V695 Q484,699 477.500,697 L476,692.500 L470,694.500 Q464,693 464,685Z"/>
<ellipse class="o" cx="469.200" cy="687" rx="4.600" ry="6.800" transform="rotate(-15 469.200 687)"/><ellipse class="o" cx="468.800" cy="687.200" rx="3" ry="4.800" transform="rotate(-15 468.800 687.200)"/>
<path class="o" d="M472,680 L480,682 L481,691 L474,693.500 M480,682 L483,677.500 M481,691 L490,685 M476,692.500 Q478,689 481,691"/>
<path class="h" d="M485,676 l2.500,8 M487,675 l2.500,8 M489,673.700 l2.500,8 M491,672.500 l2.500,8 M493.500,671 l2.500,7.500 M496,670.500 l2,6.500"/>
<!-- leaders -->
<path class="l" d="M314.500,690 V652.500 L334,630 M339.500,690 V646 M367,690 V654 M404,690 V666 M424,690 V645 M447,690 V669 M542.500,690 V624 H495 M509,686 H491"/>
<path class="d" d="M471,644 L509,665 L502.500,669" style="stroke-dasharray:8 3"/>
<path class="d" d="M344.500,628.500 L352,632" style="stroke-dasharray:3 2"/>
</g>
<g id="p011etc">
<!-- 011 -->
<path class="w" d="M394,528.500 Q395,525 400,524.300 Q406,524.300 410,527.500 Q414.500,531 413.500,534 Q411.500,537 407.500,537.500 V549.500 Q402,554 396,549.500 V535 Q393.500,532 394,528.500Z"/>
<path class="o" d="M396.500,529 Q397,526.500 400.500,526.200 Q405.500,526.300 409,529 Q412,531.500 411.500,533.500 Q410,535.500 407.500,535.500 M396,535 Q398,531.500 402,531.500 Q407.500,532 407.500,537.500"/>
<path class="h" d="M396,545 Q402,549.500 407.500,545 M396,546.500 Q402,551 407.500,546.500 M396,548 Q402,552.500 407.500,548 M396,543.500 Q402,548 407.500,543.500"/>
<circle class="o" cx="410.500" cy="531" r="1"/>
<path class="l" d="M400,571 V552.500"/>
<!-- 102 plugs -->
<g id="plug"><path class="w" d="M340,498.500 L345.500,497 Q349,499 349,503.500 Q348.500,508 345.500,510 L340.500,511Z"/><path class="h" d="M342.500,498 Q345.500,503 343,510.500 M344.500,497.500 Q347.500,503 345,510 M346.500,497.800 Q349,503 347,509"/>
<ellipse class="w" cx="338" cy="505" rx="5.500" ry="7" transform="rotate(-25 338 505)"/><path class="o" d="M335.500,511.500 Q340,513.500 343.500,508.500"/></g>
<g transform="translate(-7.500,17.500)"><path class="w" d="M340,498.500 L345.500,497 Q349,499 349,503.500 Q348.500,508 345.500,510 L340.500,511Z"/><path class="h" d="M342.500,498 Q345.500,503 343,510.500 M344.500,497.500 Q347.500,503 345,510 M346.500,497.800 Q349,503 347,509"/>
<ellipse class="w" cx="338" cy="505" rx="5.500" ry="7" transform="rotate(-25 338 505)"/><path class="o" d="M335.500,511.500 Q340,513.500 343.500,508.500"/></g>
<path class="l" d="M309,477.500 V501 L332.500,504 M309,501 L325,520"/>
<!-- 043 nuts -->
<g id="nut"><path class="w" d="M341,528 L345,524.500 L351,525 L354.500,529.500 L354.500,534.500 L350.500,538.500 L345,538.500 L341.500,534.500Z"/><path class="o" d="M341,528 L345,530 L345,538.500 M345,530 L351,530 L354.500,529.500 M351,530 L350.500,538.500"/><ellipse class="o" cx="347.500" cy="529" rx="4.200" ry="3" style="stroke-width:1.100"/><ellipse class="o" cx="347.500" cy="529" rx="2.600" ry="1.700"/></g>
<g transform="translate(-5,19)"><path class="w" d="M341,528 L345,524.500 L351,525 L354.500,529.500 L354.500,534.500 L350.500,538.500 L345,538.500 L341.500,534.500Z"/><path class="o" d="M341,528 L345,530 L345,538.500 M345,530 L351,530 L354.500,529.500 M351,530 L350.500,538.500"/><ellipse class="o" cx="347.500" cy="529" rx="4.200" ry="3" style="stroke-width:1.100"/><ellipse class="o" cx="347.500" cy="529" rx="2.600" ry="1.700"/></g>
<path class="l" d="M343,604 V559 M343,564 H352 V539"/>
<!-- 069 top -->
<path class="w" d="M200.500,509 Q203,507 205,510 Q208,514.500 215,515 Q228,515 240.500,509.500 Q243,510 242.500,513 Q228,519.500 215,519.500 Q205,519 201,513 Q199.500,511 200.500,509Z"/>
<path class="l" d="M213,477.500 V516 M262.500,477.500 V495"/>
<!-- 059 top -->
<path class="w" d="M258.500,497.500 Q262.500,494.500 266.500,497.500 V502 L269,504 V508.500 L266,510.500 L262,510 L259.500,507 H257 Q255.500,505 257,503 H258.500Z"/>
<path class="o" d="M258.500,499.500 Q262.500,502.500 266.500,499.500 M258.500,501.500 Q262.500,504.500 266.500,501.500 M262,510 V505.500 L266.500,502.500 M262,505.500 L259,503.500"/>
<ellipse class="o" cx="257" cy="505" rx="1.200" ry="2"/>
<path class="d" d="M243,510.500 L255,506" style="stroke-dasharray:5 2"/>
<path class="d" d="M262.500,512 V537"/>
</g>

<!-- 90_labels.svg -->
<g id="labels" transform="translate(0,-0.4)">
<text x="335" y="124.5">098</text>
<text x="311.5" y="177.5">046</text>
<text x="263.5" y="238">021</text>
<text x="311.5" y="241.5">004</text>
<text x="265.5" y="265">016</text>
<text x="230" y="331.5">046</text>
<text x="129" y="381">068</text>
<text x="129" y="391">046</text>
<text x="129" y="423">018</text>
<text x="129" y="435.5">086</text>
<text x="15.5" y="398">017</text><text class="s" x="30" y="395.0">*1</text>
<text x="39.5" y="398">099</text><text class="s" x="54.5" y="395.0">*1</text>
<text x="85" y="398">049</text><text class="s" x="100" y="395.0">*1</text>
<text x="206.5" y="476">069</text>
<text x="256.5" y="476">059</text>
<text x="301.5" y="476">102</text><text class="s" x="316" y="473.0">*2</text>
<text x="318" y="442">046</text>
<text x="174.5" y="543">066</text>
<text x="200.5" y="543">063</text>
<text x="218.5" y="543">064</text>
<text x="132.5" y="578">099</text><text class="s" x="147" y="575.0">*1</text>
<text x="39.5" y="653">069</text><text class="s" x="54.5" y="650.0">*1</text>
<text x="64" y="653">046</text><text class="s" x="79" y="650.0">*1</text>
<text x="101.5" y="653">059</text><text class="s" x="117" y="650.0">*1</text>
<text x="165" y="698">061</text>
<text x="234.5" y="698">062</text>
<text x="269.5" y="698">060</text>
<text x="308.5" y="698">046</text><text class="s" x="323.5" y="695.0">*1</text>
<text x="333" y="698">018</text><text class="s" x="348" y="695.0">*1</text>
<text x="361" y="698">012</text><text class="s" x="376" y="695.0">*1</text>
<text x="396.5" y="698">084</text><text class="s" x="410.5" y="695.0">*1</text>
<text x="419" y="698">013</text><text class="s" x="433.5" y="695.0">*1</text>
<text x="441" y="698">083</text>
<text x="511" y="689">015</text>
<text x="535.5" y="698">014</text>
<text x="336.5" y="610.5">043</text>
<text x="394.5" y="580">011</text>
<text x="604" y="521">085</text><text class="s" x="619" y="518.0">*1</text>
<text x="456.5" y="108.5">103</text>
<text x="495" y="108.5">005</text>
<text x="578" y="108.5">071</text>
<text x="598.5" y="108.5">041</text>
<text x="627.5" y="108.5">019</text>
<text x="685.5" y="108.5">048</text>
<text x="731.5" y="108.5">003</text>
<text x="663.5" y="230">089</text>
<text x="696.5" y="230">042</text>
<text x="750" y="287">117</text>
<text x="598.5" y="364.5">010</text>
<text x="621.5" y="364.5">038</text><text class="s" x="637" y="361.5">*1</text>
<text x="651" y="364.5">039</text><text class="s" x="666.5" y="361.5">*1</text>
<text transform="translate(16,703) rotate(-90)" style="fill:#777;font-size:8px">5681 258</text>
</g>

</svg>
</body></html>
